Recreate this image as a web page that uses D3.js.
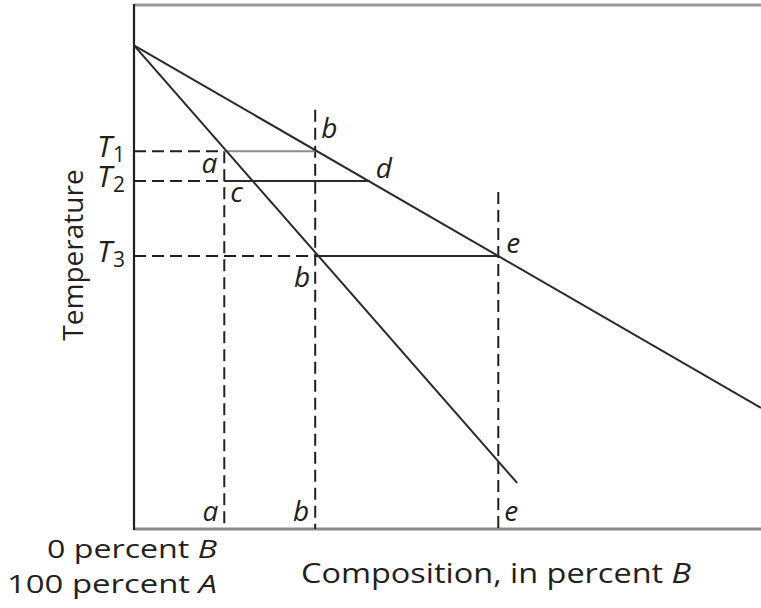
<!DOCTYPE html>
<html><head><meta charset="utf-8">
<script src="https://cdn.jsdelivr.net/npm/d3@7"></script>
<style>body{margin:0;background:#fff}svg{display:block}text{font-family:"Open Sans","Noto Sans",sans-serif;fill:#231f20}</style>
</head><body><svg id="c" width="761" height="608"></svg>
<script>
// Composition in percent B (x), temperature in relative units (y)
const meltA = 92.3;
const liquidusEnd = [100, 23.1];
const solidusEnd = [61.1, 8.8];
const isoNames = ["1", "2", "3"];
const isoTemps = [72.1, 66.4, 52.1];
const isoSolid = [14.4, 14.4, 28.9];   // dashed part ends at this composition
const isoTieEnd = [28.9, 37.6, 58.1];  // tie line end composition
const vertComps = [14.4, 28.9, 58.1];
const vertTops = [72.1, 80.0, 64.3];
const vertNames = ["a", "b", "e"];

const svg = d3.select("#c");
const x = d3.scaleLinear().domain([0, 100]).range([134, 761]);
const y = d3.scaleLinear().domain([0, 100]).range([529, 5]);
const ink = "#231f20";
const dash = "12,6";

// frame
svg.append("line").attr("x1", x(0)).attr("x2", x(100)).attr("y1", y(100)).attr("y2", y(100))
  .attr("stroke", "#9a9a9a").attr("stroke-width", 3);
svg.append("line").attr("x1", x(0)).attr("x2", x(100)).attr("y1", y(0)).attr("y2", y(0))
  .attr("stroke", "#8a8a8a").attr("stroke-width", 3);
svg.append("line").attr("x1", x(0)).attr("x2", x(0)).attr("y1", y(100) - 1).attr("y2", y(0) + 1)
  .attr("stroke", ink).attr("stroke-width", 2.2);

// verticals
vertComps.forEach((c, i) => {
  svg.append("line").attr("x1", x(c)).attr("x2", x(c)).attr("y1", y(vertTops[i])).attr("y2", y(0))
    .attr("stroke", ink).attr("stroke-width", 2).attr("stroke-dasharray", dash);
});

// isotherms
isoTemps.forEach((t, i) => {
  svg.append("line").attr("x1", x(0)).attr("x2", x(isoSolid[i])).attr("y1", y(t)).attr("y2", y(t))
    .attr("stroke", ink).attr("stroke-width", 2).attr("stroke-dasharray", dash);
  svg.append("line").attr("x1", x(isoSolid[i])).attr("x2", x(isoTieEnd[i])).attr("y1", y(t)).attr("y2", y(t))
    .attr("stroke", i === 0 ? "#8c8c8c" : "#2a2a2a").attr("stroke-width", 2);
  const g = svg.append("text").attr("x", 125).attr("y", y(t) + 6).attr("text-anchor", "end")
    .attr("font-size", 30);
  g.append("tspan").attr("font-style", "italic").text("T");
  g.append("tspan").attr("font-size", 21).attr("dx", 1).attr("dy", 5).text(isoNames[i]);
});

// liquidus and solidus
const line = d3.line().x(d => x(d[0])).y(d => y(d[1]));
svg.append("path").attr("d", line([[0, meltA], liquidusEnd])).attr("fill", "none")
  .attr("stroke", "#2a2a2a").attr("stroke-width", 2);
svg.append("path").attr("d", line([[0, meltA], solidusEnd])).attr("fill", "none")
  .attr("stroke", "#2a2a2a").attr("stroke-width", 2);

// point labels
const pts = [
  {t: "a", c: 14.4, v: 72.1, dx: -7, dy: 22, a: "end"},
  {t: "c", c: 14.4, v: 66.4, dx: 6, dy: 21, a: "start"},
  {t: "b", c: 28.9, v: 72.1, dx: 6, dy: -13, a: "start"},
  {t: "d", c: 37.6, v: 66.4, dx: 6, dy: -3, a: "start"},
  {t: "b", c: 28.9, v: 52.1, dx: -5, dy: 31, a: "end"},
  {t: "e", c: 58.1, v: 52.1, dx: 8, dy: -3, a: "start"}
];
pts.forEach(p => {
  svg.append("text").attr("x", x(p.c) + p.dx).attr("y", y(p.v) + p.dy).attr("text-anchor", p.a)
    .attr("font-size", 28).attr("font-style", "italic").text(p.t);
});
vertComps.forEach((c, i) => {
  const left = i < 2;
  svg.append("text").attr("x", x(c) + (left ? -6 : 6)).attr("y", y(0) - 8)
    .attr("text-anchor", left ? "end" : "start")
    .attr("font-size", 28).attr("font-style", "italic").text(vertNames[i]);
});

// axis titles
svg.append("text").attr("transform", `translate(83,${(y(0) + y(100)) / 2 - 12}) rotate(-90)`)
  .attr("text-anchor", "middle").attr("font-size", 28).text("Temperature");
const l1 = svg.append("text").attr("x", 217).attr("y", 558).attr("text-anchor", "end").attr("font-size", 26)
  .attr("textLength", 170).attr("lengthAdjust", "spacingAndGlyphs");
l1.append("tspan").text("0 percent ");
l1.append("tspan").attr("font-style", "italic").text("B");
const l2 = svg.append("text").attr("x", 217).attr("y", 593).attr("text-anchor", "end").attr("font-size", 26)
  .attr("textLength", 210).attr("lengthAdjust", "spacingAndGlyphs");
l2.append("tspan").text("100 percent ");
l2.append("tspan").attr("font-style", "italic").text("A");
const t3 = svg.append("text").attr("x", 496).attr("y", 583).attr("text-anchor", "middle").attr("font-size", 27)
  .attr("textLength", 390).attr("lengthAdjust", "spacingAndGlyphs");
t3.append("tspan").text("Composition, in percent ");
t3.append("tspan").attr("font-style", "italic").text("B");
</script></body></html>
